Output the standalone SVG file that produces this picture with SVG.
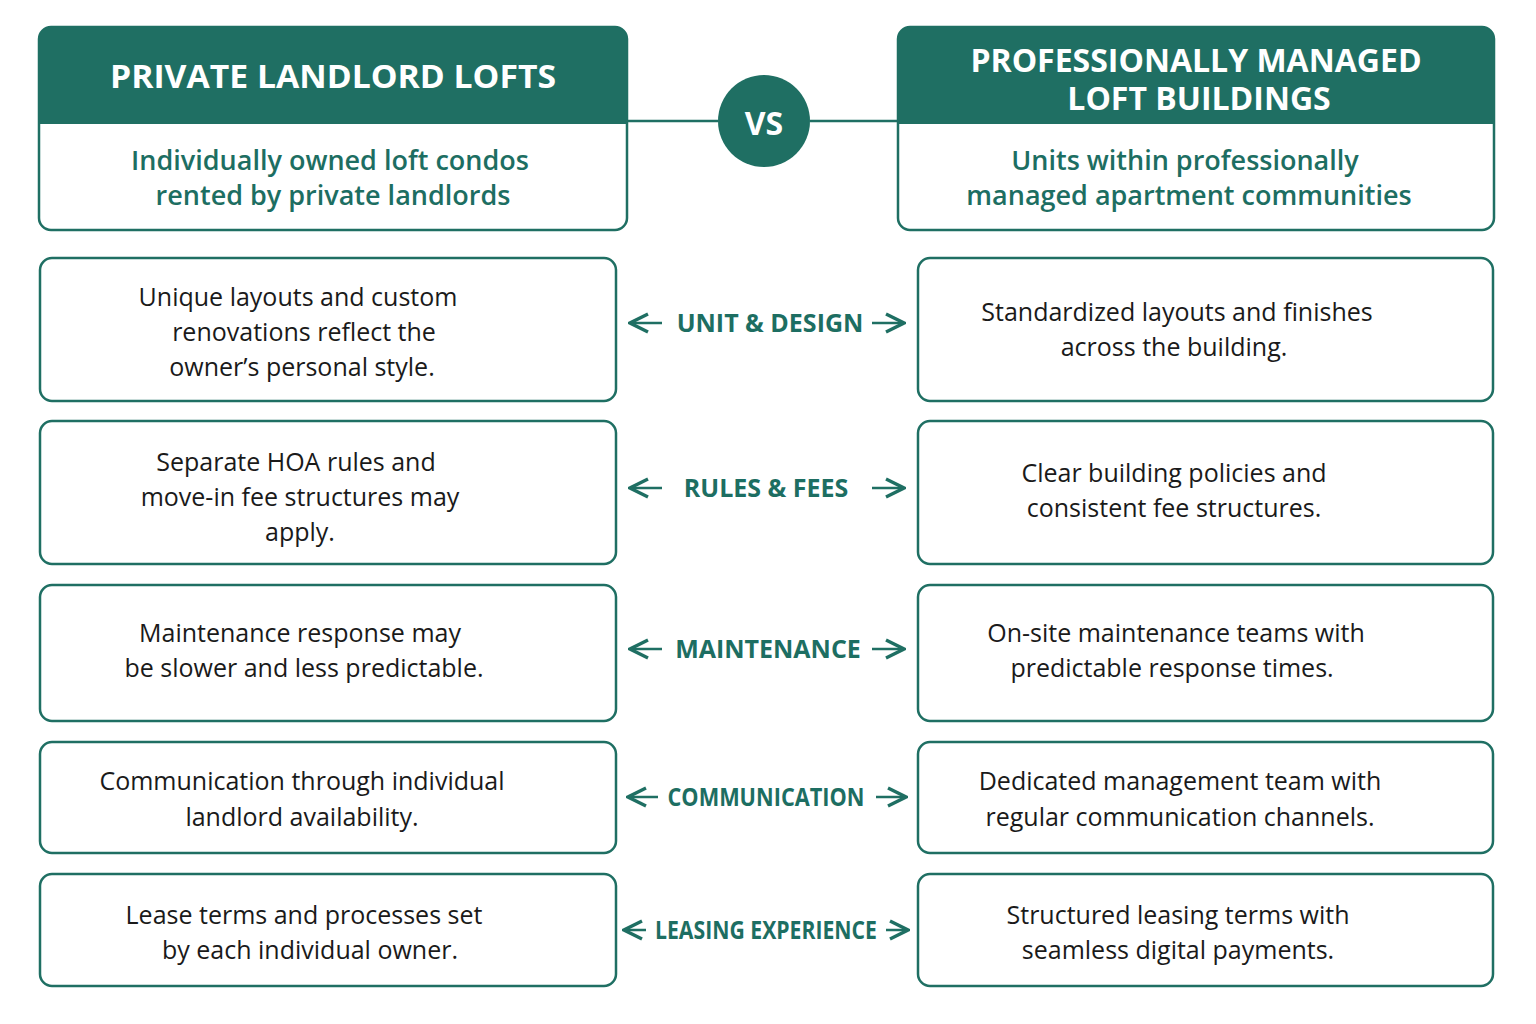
<svg xmlns="http://www.w3.org/2000/svg" width="1536" height="1024" viewBox="0 0 1536 1024">
<style>
.box{fill:#fff;stroke:#1f6f63;stroke-width:2.5}
.hd{fill:#1f6f63}
.ht{font-family:"Open Sans","DejaVu Sans",sans-serif;font-weight:700;font-size:32px;fill:#fff;text-anchor:middle}
.st{font-family:"Open Sans","DejaVu Sans",sans-serif;font-weight:600;font-size:27px;fill:#1d6e62;text-anchor:middle}
.bt{font-family:"Open Sans","DejaVu Sans",sans-serif;font-size:25px;fill:#1a1a1a;text-anchor:middle}
.lb{font-family:"Open Sans","DejaVu Sans",sans-serif;font-weight:700;font-size:25px;fill:#1d6e62;text-anchor:middle}
.ln{stroke:#1f6f63;stroke-width:2.5;fill:none}
</style>
<defs><marker id="a" viewBox="0 0 10 10" refX="9" refY="5" markerWidth="9" markerHeight="9" orient="auto-start-reverse"><path d="M1 1L9 5L1 9" fill="none" stroke="#1f6f63" stroke-width="1.5"/></marker></defs>
<rect width="1536" height="1024" fill="#fff"/>
<g id="left-header">
<rect class="box" x="39" y="27" width="588" height="203" rx="12"/>
<path class="hd" d="M51 27H615A12 12 0 0 1 627 39V124H39V39A12 12 0 0 1 51 27Z"/>
<text class="ht" x="333" y="88" textLength="446" lengthAdjust="spacingAndGlyphs">PRIVATE LANDLORD LOFTS</text>
<text class="st" x="330" y="170">Individually owned loft condos</text>
<text class="st" x="333" y="205">rented by private landlords</text>
</g>
<g id="right-header">
<rect class="box" x="898" y="27" width="596" height="203" rx="12"/>
<path class="hd" d="M910 27H1482A12 12 0 0 1 1494 39V124H898V39A12 12 0 0 1 910 27Z"/>
<text class="ht" x="1196" y="72" font-size="31">PROFESSIONALLY MANAGED</text>
<text class="ht" x="1199" y="110" font-size="31">LOFT BUILDINGS</text>
<text class="st" x="1185" y="170">Units within professionally</text>
<text class="st" x="1189" y="205">managed apartment communities</text>
</g>
<g id="connectors">
<line class="ln" x1="627" y1="121" x2="718" y2="121"/>
<line class="ln" x1="810" y1="121" x2="898" y2="121"/>
<line class="ln" x1="662" y1="323" x2="630" y2="323" marker-end="url(#a)"/>
<line class="ln" x1="872" y1="323" x2="904" y2="323" marker-end="url(#a)"/>
<line class="ln" x1="662" y1="488" x2="630" y2="488" marker-end="url(#a)"/>
<line class="ln" x1="872" y1="488" x2="904" y2="488" marker-end="url(#a)"/>
<line class="ln" x1="662" y1="649" x2="630" y2="649" marker-end="url(#a)"/>
<line class="ln" x1="872" y1="649" x2="904" y2="649" marker-end="url(#a)"/>
<line class="ln" x1="658" y1="797" x2="628" y2="797" marker-end="url(#a)"/>
<line class="ln" x1="876" y1="797" x2="906" y2="797" marker-end="url(#a)"/>
<line class="ln" x1="646" y1="930" x2="624" y2="930" marker-end="url(#a)"/>
<line class="ln" x1="886" y1="930" x2="908" y2="930" marker-end="url(#a)"/>
</g>
<g id="vs"><circle cx="764" cy="121" r="46" fill="#1f6f63"/><text class="ht" x="764" y="135" font-size="38">VS</text></g>
<g id="row1">
<rect class="box" x="40" y="258" width="576" height="143" rx="12"/>
<text class="bt" x="298" y="306">Unique layouts and custom</text>
<text class="bt" x="304" y="341">renovations reflect the</text>
<text class="bt" x="302" y="376">owner’s personal style.</text>
<text class="lb" x="770" y="332">UNIT &amp; DESIGN</text>
<rect class="box" x="918" y="258" width="575" height="143" rx="12"/>
<text class="bt" x="1177" y="321">Standardized layouts and finishes</text>
<text class="bt" x="1174" y="356">across the building.</text>
</g>
<g id="row2">
<rect class="box" x="40" y="421" width="576" height="143" rx="12"/>
<text class="bt" x="296" y="471">Separate HOA rules and</text>
<text class="bt" x="300" y="506">move-in fee structures may</text>
<text class="bt" x="300" y="541">apply.</text>
<text class="lb" x="766" y="497">RULES &amp; FEES</text>
<rect class="box" x="918" y="421" width="575" height="143" rx="12"/>
<text class="bt" x="1174" y="482">Clear building policies and</text>
<text class="bt" x="1174" y="517">consistent fee structures.</text>
</g>
<g id="row3">
<rect class="box" x="40" y="585" width="576" height="136" rx="12"/>
<text class="bt" x="300" y="642">Maintenance response may</text>
<text class="bt" x="304" y="677">be slower and less predictable.</text>
<text class="lb" x="768" y="658">MAINTENANCE</text>
<rect class="box" x="918" y="585" width="575" height="136" rx="12"/>
<text class="bt" x="1176" y="642">On-site maintenance teams with</text>
<text class="bt" x="1172" y="677">predictable response times.</text>
</g>
<g id="row4">
<rect class="box" x="40" y="742" width="576" height="111" rx="12"/>
<text class="bt" x="302" y="790">Communication through individual</text>
<text class="bt" x="302" y="826">landlord availability.</text>
<text class="lb" x="766" y="806" textLength="197" lengthAdjust="spacingAndGlyphs">COMMUNICATION</text>
<rect class="box" x="918" y="742" width="575" height="111" rx="12"/>
<text class="bt" x="1180" y="790">Dedicated management team with</text>
<text class="bt" x="1180" y="826">regular communication channels.</text>
</g>
<g id="row5">
<rect class="box" x="40" y="874" width="576" height="112" rx="12"/>
<text class="bt" x="304" y="924">Lease terms and processes set</text>
<text class="bt" x="310" y="959">by each individual owner.</text>
<text class="lb" x="766" y="939" textLength="222" lengthAdjust="spacingAndGlyphs">LEASING EXPERIENCE</text>
<rect class="box" x="918" y="874" width="575" height="112" rx="12"/>
<text class="bt" x="1178" y="924">Structured leasing terms with</text>
<text class="bt" x="1178" y="959">seamless digital payments.</text>
</g>
</svg>
